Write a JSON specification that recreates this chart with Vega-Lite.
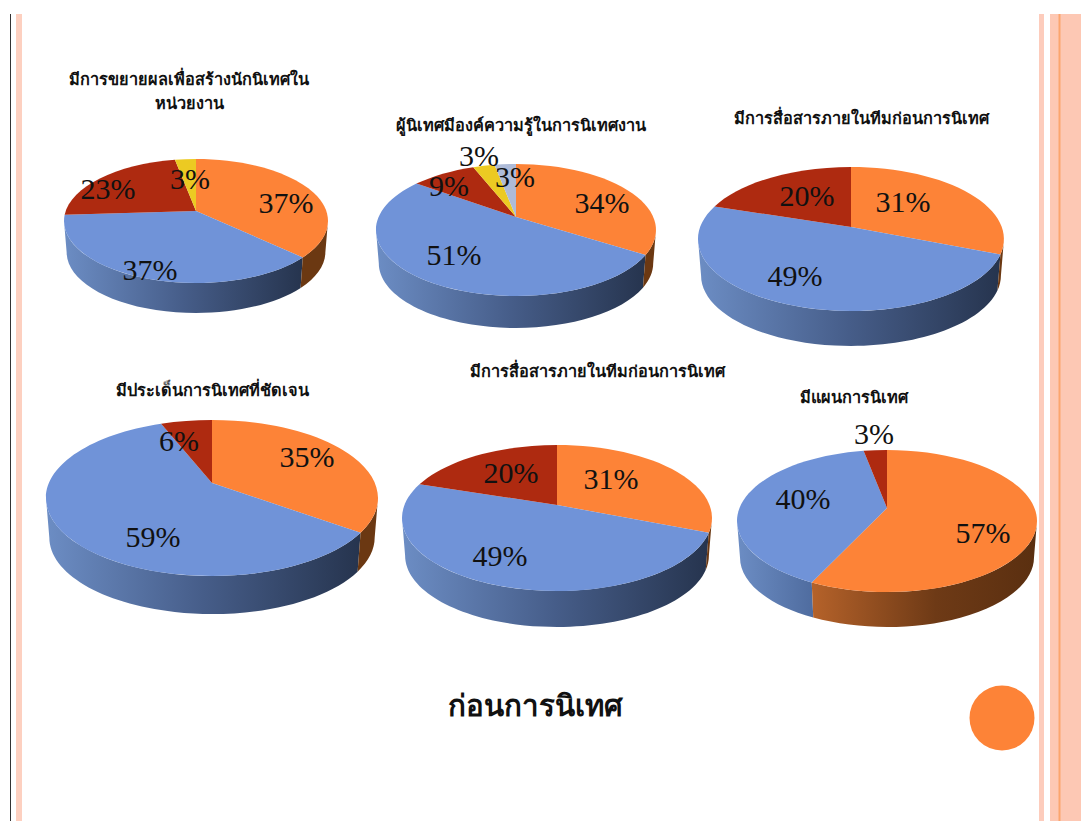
{"$schema":"https://vega.github.io/schema/vega-lite/v6.json","width":1081,"height":821,"padding":0,"autosize":{"type":"none"},"background":"#ffffff","config":{"view":{"stroke":null}},
"params":[
{"name":"pies","value":{"A":{"cx":196,"cy":221,"rx":132,"ry":62,"d":30,"k":10},"B":{"cx":516,"cy":230,"rx":140,"ry":66,"d":32,"k":13},"C":{"cx":851,"cy":239,"rx":153,"ry":72,"d":35,"k":12},"D":{"cx":212,"cy":498,"rx":166,"ry":78,"d":38,"k":15},"E":{"cx":557,"cy":518,"rx":155,"ry":73,"d":36,"k":13},"F":{"cx":887,"cy":521,"rx":150,"ry":71,"d":35,"k":13}}},
{"name":"tones","value":{"orange":"#fd8337","blue":"#7093d8","red":"#ae2a10","yellow":"#ecca22","grey":"#aebbd8"}},
{"name":"labelAt","value":{"A":{"orange":[286,204],"blue":[150,271],"red":[108,190],"yellow":[190,180]},"B":{"orange":[602,204],"blue":[454,256],"red":[449,187],"yellow":[479,157],"grey":[515,178]},"C":{"orange":[903,203],"blue":[795,277],"red":[807,197]},"D":{"orange":[307,458],"blue":[153,538],"red":[179,442]},"E":{"orange":[611,480],"blue":[500,557],"red":[511,474]},"F":{"orange":[983,534],"blue":[803,500],"red":[874,435]}}},
{"name":"titleAt","value":{"A":[189,80],"B":[521,126],"C":[861,119],"D":[212,391],"E":[597,372],"F":[854,398]}},
{"name":"bands","value":{"rule":{"x":[10,11],"c":"#333333"},"left":{"x":[16,22],"c":"#fdd0c0"},"right1":{"x":[1039,1044],"c":"#fdccbc"},"right2":{"x":[1050,1081],"c":"#fdc8b4"},"right3":{"x":[1058.5,1060.5],"c":"#fca56e"}}}
],
"datasets":{"slices":[
{"chart":"A","category":"orange","value":37,"order":1},{"chart":"A","category":"blue","value":37,"order":2},{"chart":"A","category":"red","value":23,"order":3},{"chart":"A","category":"yellow","value":3,"order":4},
{"chart":"B","category":"orange","value":34,"order":1},{"chart":"B","category":"blue","value":51,"order":2},{"chart":"B","category":"red","value":9,"order":3},{"chart":"B","category":"yellow","value":3,"order":4},{"chart":"B","category":"grey","value":3,"order":5},
{"chart":"C","category":"orange","value":31,"order":1},{"chart":"C","category":"blue","value":49,"order":2},{"chart":"C","category":"red","value":20,"order":3},
{"chart":"D","category":"orange","value":35,"order":1},{"chart":"D","category":"blue","value":59,"order":2},{"chart":"D","category":"red","value":6,"order":3},
{"chart":"E","category":"orange","value":31,"order":1},{"chart":"E","category":"blue","value":49,"order":2},{"chart":"E","category":"red","value":20,"order":3},
{"chart":"F","category":"orange","value":57,"order":1},{"chart":"F","category":"blue","value":40,"order":2},{"chart":"F","category":"red","value":3,"order":3}
],
"titles":[
{"chart":"A","title":["มีการขยายผลเพื่อสร้างนักนิเทศใน","หน่วยงาน"]},
{"chart":"B","title":"ผู้นิเทศมีองค์ความรู้ในการนิเทศงาน"},
{"chart":"C","title":"มีการสื่อสารภายในทีมก่อนการนิเทศ"},
{"chart":"D","title":"มีประเด็นการนิเทศที่ชัดเจน"},
{"chart":"E","title":"มีการสื่อสารภายในทีมก่อนการนิเทศ"},
{"chart":"F","title":"มีแผนการนิเทศ"}
]},
"data":{"name":"slices"},
"transform":[
{"stack":"value","groupby":["chart"],"sort":[{"field":"order","order":"ascending"}],"as":["v0","v1"]},
{"calculate":"pies[datum.chart].cx","as":"px"},
{"calculate":"pies[datum.chart].cy","as":"py"},
{"calculate":"pies[datum.chart].rx","as":"rx"},
{"calculate":"pies[datum.chart].ry","as":"ry"},
{"calculate":"pies[datum.chart].d","as":"d"},
{"calculate":"pies[datum.chart].k","as":"k"},
{"calculate":"datum.k/datum.ry","as":"c"},
{"calculate":"datum.v0/100*2*PI","as":"a0"},
{"calculate":"datum.v1/100*2*PI","as":"a1"},
{"calculate":"tones[datum.category]","as":"tone"},
{"calculate":"atan2(sqrt(1-datum.c*datum.c)*sin(datum.a0),cos(datum.a0)+datum.c)","as":"t0raw"},
{"calculate":"atan2(sqrt(1-datum.c*datum.c)*sin(datum.a1),cos(datum.a1)+datum.c)","as":"t1raw"},
{"calculate":"datum.t0raw<0?datum.t0raw+2*PI:datum.t0raw","as":"t0"},
{"calculate":"datum.t1raw<0?datum.t1raw+2*PI:datum.t1raw","as":"t1"},
{"calculate":"'M0,'+(-datum.k)+'L'+round(datum.rx*sin(datum.t0)*100)/100+','+round(-datum.ry*cos(datum.t0)*100)/100+'A'+datum.rx+' '+datum.ry+' 0 '+(datum.t1-datum.t0>PI?1:0)+' 1 '+round(datum.rx*sin(datum.t1)*100)/100+','+round(-datum.ry*cos(datum.t1)*100)/100+'Z'","as":"topPath"},
{"calculate":"max(datum.t0,PI/2)","as":"w0"},
{"calculate":"min(datum.t1,3*PI/2)","as":"w1"},
{"calculate":"round(datum.rx*sin(datum.w0)*100)/100","as":"x0"},
{"calculate":"round(-datum.ry*cos(datum.w0)*100)/100","as":"y0"},
{"calculate":"round(datum.rx*sin(datum.w1)*100)/100","as":"x1"},
{"calculate":"round(-datum.ry*cos(datum.w1)*100)/100","as":"y1"},
{"calculate":"datum.d+datum.ry*0.02","as":"dd"},
{"calculate":"'M'+datum.x0+','+datum.y0+'A'+datum.rx+' '+datum.ry+' 0 0 1 '+datum.x1+','+datum.y1+'L'+round(datum.x1*98)/100+','+round((datum.y1*0.98+datum.dd)*100)/100+'A'+round(datum.rx*98)/100+' '+round(datum.ry*98)/100+' 0 0 0 '+round(datum.x0*98)/100+','+round((datum.y0*0.98+datum.dd)*100)/100+'Z'","as":"wallPath"}
],
"encoding":{
"x":{"field":"px","type":"quantitative","scale":{"domain":[0,1081],"nice":false,"zero":false},"axis":null},
"y":{"field":"py","type":"quantitative","scale":{"domain":[821,0],"nice":false,"zero":false},"axis":null}
},
"layer":[
{"data":{"values":[{"band":"rule"},{"band":"left"},{"band":"right1"},{"band":"right2"},{"band":"right3"}]},
"transform":[{"calculate":"bands[datum.band].x[0]","as":"px"},{"calculate":"bands[datum.band].x[1]","as":"px2"},{"calculate":"14","as":"py"},{"calculate":"821","as":"py2"},{"calculate":"bands[datum.band].c","as":"tint"}],
"mark":{"type":"rect"},
"encoding":{"x2":{"field":"px2"},"y2":{"field":"py2"},"color":{"field":"tint","type":"nominal","scale":null,"legend":null}}},
{"transform":[{"filter":"datum.w1>datum.w0 && datum.category=='blue' && datum.chart!='F'"}],
"mark":{"type":"point","filled":true,"opacity":1,"size":4,"strokeWidth":0,"fill":{"gradient":"linear","x1":0,"y1":0,"x2":1,"y2":0,"stops":[{"offset":0,"color":"#6c8dc4"},{"offset":0.5,"color":"#465d89"},{"offset":1,"color":"#26344e"}]}},
"encoding":{"shape":{"field":"wallPath","type":"nominal","scale":null,"legend":null}}},
{"transform":[{"filter":"datum.w1>datum.w0 && datum.category=='blue' && datum.chart=='F'"}],
"mark":{"type":"point","filled":true,"opacity":1,"size":4,"strokeWidth":0,"fill":{"gradient":"linear","x1":0,"y1":0,"x2":1,"y2":0,"stops":[{"offset":0,"color":"#6c8dc4"},{"offset":1,"color":"#4f6c9f"}]}},
"encoding":{"shape":{"field":"wallPath","type":"nominal","scale":null,"legend":null}}},
{"transform":[{"filter":"datum.w1>datum.w0 && datum.category=='orange' && datum.chart!='F'"}],
"mark":{"type":"point","filled":true,"opacity":1,"size":4,"strokeWidth":0,"fill":"#6b3812"},
"encoding":{"shape":{"field":"wallPath","type":"nominal","scale":null,"legend":null}}},
{"transform":[{"filter":"datum.w1>datum.w0 && datum.category=='orange' && datum.chart=='F'"}],
"mark":{"type":"point","filled":true,"opacity":1,"size":4,"strokeWidth":0,"fill":{"gradient":"linear","x1":0,"y1":0,"x2":1,"y2":0,"stops":[{"offset":0,"color":"#b5622a"},{"offset":0.55,"color":"#6e3a16"},{"offset":1,"color":"#5a2f10"}]}},
"encoding":{"shape":{"field":"wallPath","type":"nominal","scale":null,"legend":null}}},
{"transform":[{"filter":"datum.w1>datum.w0 && datum.category=='red'"}],
"mark":{"type":"point","filled":true,"opacity":1,"size":4,"strokeWidth":0,"fill":"#6a1e0a"},
"encoding":{"shape":{"field":"wallPath","type":"nominal","scale":null,"legend":null}}},
{"mark":{"type":"point","filled":true,"opacity":1,"size":4,"strokeWidth":0},
"encoding":{"shape":{"field":"topPath","type":"nominal","scale":null,"legend":null},"color":{"field":"tone","type":"nominal","scale":null,"legend":null}}},
{"transform":[{"calculate":"labelAt[datum.chart][datum.category][0]","as":"px"},{"calculate":"labelAt[datum.chart][datum.category][1]","as":"py"},{"calculate":"datum.value+'%'","as":"pct"}],
"mark":{"type":"text","font":"Liberation Serif","fontSize":30,"color":"#111111","baseline":"middle","align":"center"},
"encoding":{"text":{"field":"pct"}}},
{"data":{"name":"titles"},
"transform":[{"calculate":"titleAt[datum.chart][0]","as":"px"},{"calculate":"titleAt[datum.chart][1]","as":"py"}],
"mark":{"type":"text","font":"Noto Sans","fontWeight":"bold","fontSize":16.3,"lineHeight":24,"color":"#111111","baseline":"middle","align":"center"},
"encoding":{"text":{"field":"title"}}},
{"data":{"values":[{"caption":"ก่อนการนิเทศ"}]},
"transform":[{"calculate":"535","as":"px"},{"calculate":"707","as":"py"}],
"mark":{"type":"text","font":"Noto Sans","fontWeight":"bold","fontSize":29.5,"color":"#111111","baseline":"middle","align":"center"},
"encoding":{"text":{"field":"caption"}}},
{"data":{"values":[{"marker":"dot"}]},
"transform":[{"calculate":"1002","as":"px"},{"calculate":"718","as":"py"}],
"mark":{"type":"point","shape":"circle","filled":true,"opacity":1,"size":4225,"strokeWidth":0,"color":"#fd8337"},
"encoding":{}}
]}
